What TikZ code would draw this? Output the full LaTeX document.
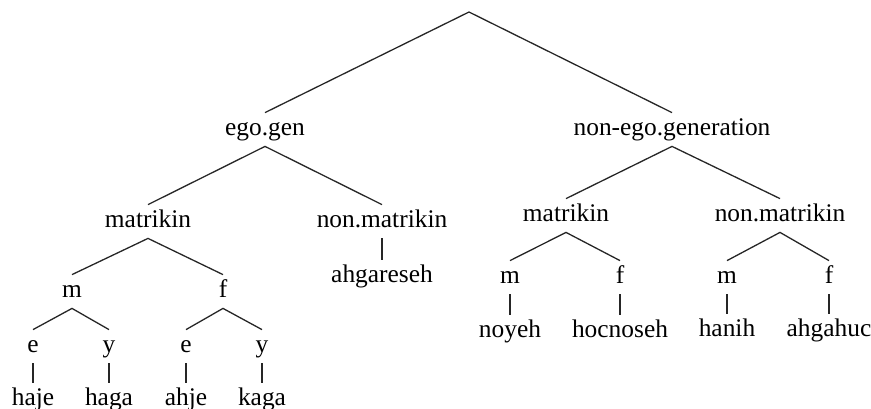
\documentclass[tikz,border=0pt]{standalone}
\usepackage{fontspec}
\setmainfont{Liberation Serif}
\begin{document}
\begin{tikzpicture}[x=0.5pt,y=-0.5pt,
  lbl/.style={anchor=base,inner sep=0pt,text height=11pt,text depth=5.5pt,font=\fontsize{12.7}{15}\selectfont},
  edge/.style={line width=0.65pt,black!85}]

\useasboundingbox (0,0) rectangle (871,408);

\coordinate (root) at (469,12);
\node [lbl] (egogen) at (265,135) {ego.gen};
\node [lbl] (nonego) at (672,135) {non-ego.generation};

\node [lbl] (lmat) at (148,227) {matrikin};
\node [lbl] (lnon) at (382,227) {non.matrikin};
\node [lbl] (rmat) at (566,221) {matrikin};
\node [lbl] (rnon) at (780,221) {non.matrikin};

\node [lbl] (lm) at (72,297) {m};
\node [lbl] (lf) at (223,297) {f};
\node [lbl] (ahgareseh) at (382,282) {ahgareseh};
\node [lbl] (rm) at (510,283) {m};
\node [lbl] (rf) at (620,283) {f};
\node [lbl] (rnm) at (727,283) {m};
\node [lbl] (rnf) at (829,283) {f};

\node [lbl] (lme) at (33,352) {e};
\node [lbl] (lmy) at (109,352) {y};
\node [lbl] (lfe) at (186,352) {e};
\node [lbl] (lfy) at (262,352) {y};

\node [lbl] (haje) at (33,405) {haje};
\node [lbl] (haga) at (109,405) {haga};
\node [lbl] (ahje) at (186,405) {ahje};
\node [lbl] (kaga) at (262,405) {kaga};
\node [lbl] (noyeh) at (510,337) {noyeh};
\node [lbl] (hocnoseh) at (620,337) {hocnoseh};
\node [lbl] (hanih) at (727,336) {hanih};
\node [lbl] (ahgahuc) at (829,336) {ahgahuc};

\draw [edge](egogen.north) -- (root) -- (nonego.north);
\draw [edge](lmat.north) -- (egogen.south) -- (lnon.north);
\draw [edge](rmat.north) -- (nonego.south) -- (rnon.north);
\draw [edge](lm.north) -- (lmat.south) -- (lf.north);
\draw [edge](rm.north) -- (rmat.south) -- (rf.north);
\draw [edge](rnm.north) -- (rnon.south) -- (rnf.north);
\draw [edge](lme.north) -- (lm.south) -- (lmy.north);
\draw [edge](lfe.north) -- (lf.south) -- (lfy.north);
\draw [edge](lnon) -- (ahgareseh);
\draw [edge](lme) -- (haje);
\draw [edge](lmy) -- (haga);
\draw [edge](lfe) -- (ahje);
\draw [edge](lfy) -- (kaga);
\draw [edge](rm) -- (noyeh);
\draw [edge](rf) -- (hocnoseh);
\draw [edge](rnm) -- (hanih);
\draw [edge](rnf) -- (ahgahuc);
\end{tikzpicture}
\end{document}
